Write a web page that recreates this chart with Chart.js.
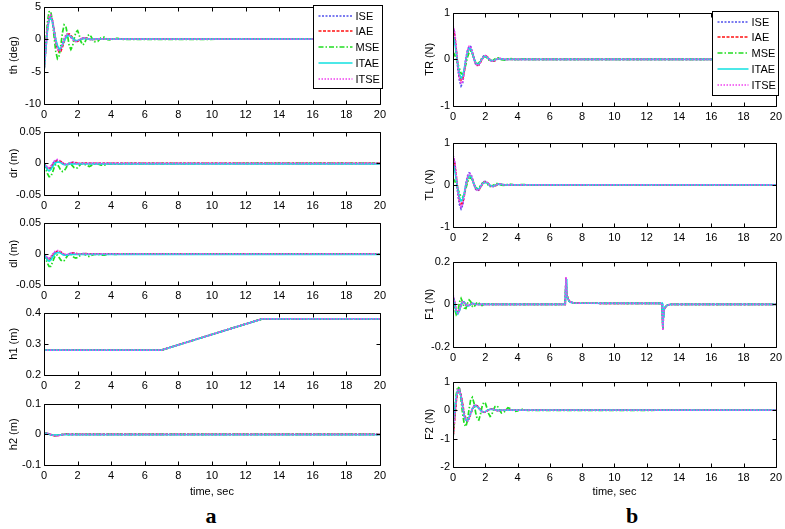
<!DOCTYPE html>
<html>
<head>
<meta charset="utf-8">
<script src="https://cdn.jsdelivr.net/npm/chart.js@4.4.0/dist/chart.umd.min.js"></script>
<style>
  body { margin: 0; background: #fff; width: 785px; height: 529px; position: relative; overflow: hidden; }
  canvas { position: absolute; }
  .tag { position: absolute; font: bold 22px "Liberation Serif", "Times New Roman", serif; transform: translate(-50%, -50%); }
</style>
</head>
<body>
<div class="tag" style="left:211px; top:516px">a</div>
<div class="tag" style="left:632px; top:516px">b</div>
<script>
// tick labels
const xTicks = [0, 2, 4, 6, 8, 10, 12, 14, 16, 18, 20];
const thTicks = [-10, -5, 0, 5];
const drTicks = [-0.05, 0, 0.05];
const dlTicks = [-0.05, 0, 0.05];
const h1Ticks = [0.2, 0.3, 0.4];
const h2Ticks = [-0.1, 0, 0.1];
const trTicks = [-1, 0, 1];
const tlTicks = [-1, 0, 1];
const f1Ticks = [-0.2, 0, 0.2];
const f2Ticks = [-2, -1, 0, 1];

// time samples (sec)
const tA = [0,0.1,0.2,0.3,0.4,0.5,0.6,0.7,0.8,0.9,
  1.0,1.1,1.2,1.3,1.4,1.5,1.6,1.7,1.8,1.9,
  2.0,2.1,2.2,2.3,2.4,2.5,2.6,2.7,2.8,2.9,
  3.0,3.2,3.4,3.6,3.8,4.0,4.2,4.4,4.6,20];
const tH = [0, 7, 13, 20];
const tF = [0,0.1,0.2,0.3,0.4,0.5,0.6,0.7,0.8,0.9,
  1.0,1.1,1.2,1.3,1.4,1.5,1.6,1.7,1.8,1.9,
  2.0,2.5,6.95,7.0,7.03,7.06,7.1,7.2,7.3,7.5,
  8.0,12.95,13.0,13.03,13.06,13.1,13.2,13.3,13.5,20];

// th (deg)
const thISE = [-5.0,-1.6,1.6,3.3,3.6,2.8,1.2,-0.4,-1.4,-1.8,
  -1.5,-0.8,0.0,0.5,0.7,0.6,0.3,0.0,-0.25,-0.35,
  -0.3,-0.15,0.0,0.12,0.15,0.12,0.05,-0.03,-0.07,-0.06,
  -0.03,0.02,0.03,0.01,-0.01,0,0,0,0,0];
const thIAE = [-5.0,-1.8,1.4,3.1,3.5,2.9,1.5,-0.2,-1.4,-2.0,
  -1.9,-1.2,-0.4,0.3,0.7,0.8,0.6,0.2,-0.15,-0.35,
  -0.35,-0.2,-0.05,0.1,0.17,0.15,0.08,0.0,-0.06,-0.07,
  -0.05,0.02,0.04,0.02,-0.01,-0.01,0,0,0,0];
const thMSE = [-5.0,-1.0,2.5,4.2,4.3,2.8,0.4,-1.9,-3.0,-2.6,
  -1.0,1.0,2.2,2.0,0.6,-1.0,-1.6,-1.1,0.1,1.1,
  1.3,0.6,-0.4,-0.9,-0.7,-0.1,0.5,0.7,0.4,-0.1,
  -0.4,-0.35,0.2,0.3,-0.1,-0.15,0.1,0.12,-0.05,0];
const thITAE = [-5.0,-1.9,1.2,2.9,3.3,2.7,1.3,-0.1,-1.0,-1.5,
  -1.4,-0.9,-0.3,0.2,0.5,0.55,0.4,0.15,-0.1,-0.22,
  -0.22,-0.13,-0.02,0.06,0.1,0.08,0.04,-0.01,-0.04,-0.04,
  -0.02,0.01,0.02,0.01,0,0,0,0,0,0];
const thITSE = [-5.0,-1.5,1.7,3.4,3.7,2.9,1.2,-0.5,-1.5,-1.9,
  -1.6,-0.8,0.0,0.6,0.8,0.65,0.3,-0.05,-0.3,-0.4,
  -0.3,-0.12,0.05,0.15,0.17,0.12,0.04,-0.04,-0.08,-0.06,
  -0.03,0.02,0.03,0.01,-0.01,0,0,0,0,0];

// dr (m)
const drISE = [0,-0.004,-0.007,-0.008,-0.006,-0.002,0.002,0.004,0.005,0.004,
  0.002,0,-0.001,-0.002,-0.001,0,0.001,0.0015,0.001,0,
  -0.0005,-0.0005,0,0.0003,0.0003,0,0,0,0,0,
  0,0,0,0,0,0,0,0,0,0];
const drIAE = [0,-0.005,-0.009,-0.010,-0.008,-0.004,0,0.003,0.004,0.004,
  0.003,0.001,-0.001,-0.002,-0.002,-0.001,0,0.001,0.001,0.001,
  0,-0.0005,-0.0005,0,0.0003,0.0003,0,0,0,0,
  0,0,0,0,0,0,0,0,0,0];
const drMSE = [0,-0.008,-0.016,-0.021,-0.021,-0.015,-0.007,-0.002,-0.002,-0.006,
  -0.011,-0.013,-0.012,-0.008,-0.003,0,-0.001,-0.004,-0.007,-0.008,
  -0.007,-0.004,-0.001,0,-0.001,-0.003,-0.004,-0.005,-0.004,-0.002,
  -0.001,-0.001,-0.003,-0.003,-0.001,-0.0005,-0.0015,-0.0015,-0.0005,0];
const drITAE = [0,-0.005,-0.010,-0.012,-0.010,-0.006,-0.002,0.001,0.002,0.002,
  0.001,-0.001,-0.002,-0.002,-0.002,-0.001,-0.001,-0.001,-0.001,-0.001,
  -0.001,-0.001,-0.001,-0.001,-0.001,-0.001,-0.001,-0.001,-0.001,-0.001,
  -0.001,-0.001,-0.001,-0.001,-0.001,-0.001,-0.001,-0.001,-0.001,-0.001];
const drITSE = [0,-0.003,-0.006,-0.007,-0.005,-0.001,0.003,0.005,0.006,0.005,
  0.003,0.001,-0.001,-0.001,-0.001,0,0.001,0.001,0.001,0,
  0,0,0,0,0,0,0,0,0,0,
  0,0,0,0,0,0,0,0,0,0];

// dl (m)
const dlISE = [0,-0.004,-0.007,-0.008,-0.006,-0.002,0.001,0.003,0.004,0.004,
  0.002,0,-0.001,-0.002,-0.001,0,0.001,0.001,0.001,0,
  -0.0005,-0.0005,0,0.0003,0.0003,0,0,0,0,0,
  0,0,0,0,0,0,0,0,0,0];
const dlIAE = [0,-0.005,-0.009,-0.010,-0.008,-0.004,0,0.002,0.004,0.004,
  0.003,0.001,-0.001,-0.002,-0.002,-0.001,0,0.001,0.001,0.001,
  0,-0.0005,-0.0005,0,0.0003,0.0003,0,0,0,0,
  0,0,0,0,0,0,0,0,0,0];
const dlMSE = [0,-0.008,-0.015,-0.020,-0.020,-0.014,-0.007,-0.002,-0.002,-0.006,
  -0.010,-0.012,-0.011,-0.007,-0.003,0,-0.001,-0.004,-0.006,-0.007,
  -0.006,-0.004,-0.001,0,-0.001,-0.002,-0.004,-0.004,-0.003,-0.002,
  -0.001,-0.001,-0.002,-0.002,-0.001,0,-0.001,-0.001,0,0];
const dlITAE = [0,-0.005,-0.010,-0.012,-0.010,-0.006,-0.002,0.001,0.002,0.002,
  0.001,-0.001,-0.002,-0.002,-0.002,-0.001,-0.001,-0.001,-0.001,-0.001,
  -0.001,-0.001,-0.001,-0.001,-0.001,-0.001,-0.001,-0.001,-0.001,-0.001,
  -0.001,-0.001,-0.001,-0.001,-0.001,-0.001,-0.001,-0.001,-0.001,-0.001];
const dlITSE = [0,-0.003,-0.006,-0.007,-0.005,-0.001,0.003,0.004,0.005,0.005,
  0.003,0.001,-0.001,-0.001,-0.001,0,0.001,0.001,0.001,0,
  0,0,0,0,0,0,0,0,0,0,
  0,0,0,0,0,0,0,0,0,0];

// h1 (m)
const h1ISE = [0.28, 0.28, 0.38, 0.38];
const h1IAE = [0.28, 0.28, 0.38, 0.38];
const h1MSE = [0.28, 0.28, 0.38, 0.38];
const h1ITAE = [0.28, 0.28, 0.38, 0.38];
const h1ITSE = [0.28, 0.28, 0.38, 0.38];

// h2 (m)
const h2ISE = [0.004,0.004,0.003,0.001,-0.001,-0.002,-0.003,-0.004,-0.004,-0.003,
  -0.002,-0.001,0,0.0005,0.0005,0,0,0,0,0,
  0,0,0,0,0,0,0,0,0,0,
  0,0,0,0,0,0,0,0,0,0];
const h2IAE = [0.004,0.004,0.003,0.001,-0.001,-0.003,-0.004,-0.004,-0.004,-0.003,
  -0.002,-0.001,0,0.0005,0.0005,0,0,0,0,0,
  0,0,0,0,0,0,0,0,0,0,
  0,0,0,0,0,0,0,0,0,0];
const h2MSE = [0.003,0.003,0.002,0,-0.002,-0.003,-0.004,-0.004,-0.003,-0.002,
  -0.001,0,0.001,0.001,0,-0.001,-0.001,0,0.0005,0.0005,
  0,0,0,0,0,0,0,0,0,0,
  0,0,0,0,0,0,0,0,0,0];
const h2ITAE = [0.003,0.003,0.002,0,-0.002,-0.003,-0.003,-0.003,-0.003,-0.002,
  -0.002,-0.001,-0.001,-0.001,-0.001,-0.001,-0.001,-0.001,-0.001,-0.001,
  -0.001,-0.001,-0.001,-0.001,-0.001,-0.001,-0.001,-0.001,-0.001,-0.001,
  -0.001,-0.001,-0.001,-0.001,-0.001,-0.001,-0.001,-0.001,-0.001,-0.001];
const h2ITSE = [0.005,0.004,0.003,0.001,-0.001,-0.003,-0.005,-0.006,-0.005,-0.004,
  -0.002,-0.001,0,0.0005,0.0005,0,0,0,0,0,
  0,0,0,0,0,0,0,0,0,0,
  0,0,0,0,0,0,0,0,0,0];

// TR (N)
const trISE = [0.7,0.55,0.2,-0.2,-0.45,-0.57,-0.5,-0.25,0.02,0.2,
  0.28,0.27,0.15,0,-0.1,-0.13,-0.12,-0.05,0.03,0.07,
  0.08,0.05,0.01,-0.03,-0.04,-0.04,-0.02,0,0.02,0.02,
  0.01,-0.01,0,0.005,0,0,0,0,0,0];
const trIAE = [0.65,0.5,0.2,-0.12,-0.35,-0.45,-0.42,-0.25,-0.03,0.14,
  0.22,0.21,0.13,0.02,-0.08,-0.13,-0.12,-0.07,0,0.05,
  0.07,0.06,0.03,-0.01,-0.03,-0.04,-0.03,-0.01,0.01,0.02,
  0.01,0,0,0,0,0,0,0,0,0];
const trMSE = [0.15,0.1,0,-0.1,-0.2,-0.3,-0.32,-0.25,-0.1,0.05,
  0.15,0.18,0.12,0.02,-0.06,-0.1,-0.08,-0.03,0.03,0.06,
  0.06,0.03,-0.01,-0.04,-0.04,-0.02,0.01,0.03,0.03,0.01,
  -0.01,-0.02,0.01,0.015,-0.005,-0.01,0.005,0.005,0,0];
const trITAE = [0.5,0.4,0.15,-0.12,-0.32,-0.4,-0.36,-0.2,0,0.15,
  0.23,0.22,0.13,0.02,-0.07,-0.11,-0.1,-0.05,0.01,0.05,
  0.06,0.05,0.02,-0.01,-0.03,-0.03,-0.02,0,0.01,0.015,
  0.01,0,0,0,0,0,0,0,0,0];
const trITSE = [0.72,0.6,0.25,-0.15,-0.4,-0.52,-0.47,-0.26,0,0.19,
  0.28,0.27,0.16,0.02,-0.09,-0.14,-0.12,-0.06,0.01,0.06,
  0.08,0.06,0.02,-0.02,-0.04,-0.04,-0.02,0,0.015,0.02,
  0.01,-0.005,0,0,0,0,0,0,0,0];

// TL (N)
const tlISE = [0.7,0.55,0.18,-0.22,-0.47,-0.57,-0.48,-0.24,0.03,0.21,
  0.28,0.26,0.14,0,-0.1,-0.14,-0.12,-0.05,0.03,0.07,
  0.08,0.05,0.01,-0.03,-0.04,-0.04,-0.02,0,0.02,0.02,
  0.01,-0.01,0,0.005,0,0,0,0,0,0];
const tlIAE = [0.62,0.5,0.2,-0.12,-0.35,-0.45,-0.42,-0.25,-0.03,0.14,
  0.22,0.21,0.13,0.02,-0.08,-0.13,-0.12,-0.07,0,0.05,
  0.07,0.06,0.03,-0.01,-0.03,-0.04,-0.03,-0.01,0.01,0.02,
  0.01,0,0,0,0,0,0,0,0,0];
const tlMSE = [0.15,0.1,0,-0.1,-0.2,-0.28,-0.3,-0.22,-0.08,0.06,
  0.15,0.17,0.11,0.02,-0.06,-0.09,-0.07,-0.02,0.03,0.06,
  0.05,0.02,-0.01,-0.04,-0.03,-0.01,0.01,0.03,0.025,0.01,
  -0.01,-0.015,0.01,0.01,-0.005,-0.005,0.003,0.003,0,0];
const tlITAE = [0.5,0.38,0.14,-0.12,-0.3,-0.38,-0.35,-0.2,0,0.15,
  0.22,0.21,0.13,0.02,-0.07,-0.11,-0.1,-0.05,0.01,0.05,
  0.06,0.05,0.02,-0.01,-0.03,-0.03,-0.02,0,0.01,0.015,
  0.01,0,0,0,0,0,0,0,0,0];
const tlITSE = [0.7,0.58,0.24,-0.16,-0.41,-0.52,-0.46,-0.25,0,0.19,
  0.27,0.26,0.15,0.02,-0.09,-0.13,-0.12,-0.06,0.01,0.06,
  0.07,0.06,0.02,-0.02,-0.04,-0.04,-0.02,0,0.015,0.02,
  0.01,-0.005,0,0,0,0,0,0,0,0];

// F1 (N)
const f1ISE = [0.045,0.01,-0.03,-0.04,-0.025,0,0.012,0.008,-0.004,-0.008,
  -0.004,0.002,0.004,0.002,0,-0.001,0,0,0,0,
  0,0,0,0.125,0.07,0.045,0.03,0.015,0.01,0.006,
  0.005,0.004,-0.12,-0.06,-0.035,-0.02,-0.008,-0.003,0,0];
const f1IAE = [0.035,0.005,-0.03,-0.038,-0.025,-0.003,0.01,0.009,0,-0.006,
  -0.005,0,0.003,0.002,0,-0.001,0,0,0,0,
  0,0,0,0.12,0.068,0.044,0.03,0.015,0.01,0.006,
  0.005,0.004,-0.115,-0.058,-0.034,-0.02,-0.008,-0.003,0,0];
const f1MSE = [0.02,-0.02,-0.048,-0.035,0.01,0.028,0.01,-0.018,-0.02,0.005,
  0.02,0.012,-0.01,-0.014,0,0.01,0.006,-0.004,-0.006,0,
  0.002,0,0,0.12,0.068,0.044,0.03,0.015,0.01,0.006,
  0.005,0.004,-0.115,-0.058,-0.034,-0.02,-0.008,-0.003,0,0];
const f1ITAE = [0.04,0,-0.035,-0.045,-0.03,-0.005,0.01,0.01,0,-0.007,
  -0.006,0,0.004,0.003,0,-0.001,-0.001,0,0,0,
  0,0,0,0.118,0.065,0.042,0.028,0.014,0.009,0.006,
  0.005,0.004,-0.11,-0.055,-0.032,-0.019,-0.008,-0.003,0,0];
const f1ITSE = [0.045,0.012,-0.028,-0.04,-0.027,-0.002,0.012,0.009,-0.003,-0.008,
  -0.005,0.001,0.004,0.002,0,-0.001,0,0,0,0,
  0,0,0,0.128,0.072,0.046,0.03,0.015,0.01,0.006,
  0.005,0.004,-0.122,-0.06,-0.035,-0.02,-0.008,-0.003,0,0];

// F2 (N)
const f2ISE = [-1,-0.3,0.35,0.7,0.75,0.5,0.15,-0.2,-0.38,-0.4,
  -0.3,-0.12,0.05,0.15,0.18,0.15,0.08,0,-0.06,-0.08,
  -0.07,-0.03,0.01,0.03,0.04,0.03,0.01,-0.01,-0.02,-0.02,
  -0.01,0.005,0.01,0,0,0,0,0,0,0];
const f2IAE = [-1,-0.35,0.3,0.65,0.72,0.52,0.2,-0.12,-0.3,-0.35,
  -0.28,-0.13,0.02,0.12,0.16,0.14,0.08,0.02,-0.04,-0.07,
  -0.07,-0.04,0,0.03,0.04,0.03,0.01,-0.01,-0.02,-0.02,
  -0.01,0.005,0.01,0,0,0,0,0,0,0];
const f2MSE = [-1,-0.1,0.55,0.82,0.75,0.35,-0.15,-0.5,-0.58,-0.35,
  0.05,0.38,0.45,0.25,-0.08,-0.32,-0.35,-0.15,0.12,0.27,
  0.25,0.08,-0.12,-0.22,-0.17,0,0.12,0.15,0.1,-0.02,
  -0.1,-0.05,0.08,0.04,-0.05,-0.03,0.03,0.02,-0.015,0];
const f2ITAE = [-0.6,0,0.45,0.7,0.7,0.45,0.1,-0.2,-0.35,-0.35,
  -0.25,-0.1,0.04,0.12,0.15,0.12,0.06,0,-0.05,-0.06,
  -0.05,-0.02,0.01,0.02,0.03,0.02,0.01,-0.005,-0.01,-0.01,
  -0.005,0,0,0,0,0,0,0,0,0];
const f2ITSE = [-0.9,-0.25,0.4,0.72,0.73,0.48,0.12,-0.2,-0.37,-0.38,
  -0.28,-0.1,0.05,0.14,0.17,0.14,0.07,0,-0.05,-0.07,
  -0.06,-0.03,0.01,0.03,0.035,0.025,0.01,-0.01,-0.015,-0.015,
  -0.01,0.005,0.005,0,0,0,0,0,0,0];

const names = ['ISE', 'IAE', 'MSE', 'ITAE', 'ITSE'];
const colors = ['#5050ec', '#ff1010', '#20dd20', '#10e0e0', '#f040f0'];
const dashes = [[2, 1.5], [3, 1.5], [5, 2, 1.5, 2], [], [1.5, 1.5]];
const FONT = '"Liberation Sans", Arial, Helvetica, sans-serif';

// page layout of the two columns of subplots
const cols = [
  { left: 0, plotLeft: 44, plotRight: 382, titleX: 14, xTitleY: 491.5 },
  { left: 400, plotLeft: 453, plotRight: 778, titleX: 430, xTitleY: 492 }
];
const PT = 8, PR = 8;

const panels = [
  { col: 0, top: 5, bottom: 104, label: 'th (deg)', yTicks: thTicks, t: tA, s: [thISE, thIAE, thMSE, thITAE, thITSE], legend: { x: 313, y: 5, w: 69, h: 83 } },
  { col: 0, top: 130, bottom: 195, label: 'dr (m)', yTicks: drTicks, t: tA, s: [drISE, drIAE, drMSE, drITAE, drITSE] },
  { col: 0, top: 221, bottom: 285, label: 'dl (m)', yTicks: dlTicks, t: tA, s: [dlISE, dlIAE, dlMSE, dlITAE, dlITSE] },
  { col: 0, top: 311, bottom: 375, label: 'h1 (m)', yTicks: h1Ticks, t: tH, s: [h1ISE, h1IAE, h1MSE, h1ITAE, h1ITSE] },
  { col: 0, top: 402, bottom: 465, label: 'h2 (m)', yTicks: h2Ticks, t: tA, s: [h2ISE, h2IAE, h2MSE, h2ITAE, h2ITSE], xTitle: true },
  { col: 1, top: 11, bottom: 106, label: 'TR (N)', yTicks: trTicks, t: tA, s: [trISE, trIAE, trMSE, trITAE, trITSE], legend: { x: 712, y: 11, w: 66, h: 84 } },
  { col: 1, top: 141, bottom: 227, label: 'TL (N)', yTicks: tlTicks, t: tA, s: [tlISE, tlIAE, tlMSE, tlITAE, tlITSE] },
  { col: 1, top: 260, bottom: 347, label: 'F1 (N)', yTicks: f1Ticks, t: tF, s: [f1ISE, f1IAE, f1MSE, f1ITAE, f1ITSE] },
  { col: 1, top: 380, bottom: 467, label: 'F2 (N)', yTicks: f2Ticks, t: tA, s: [f2ISE, f2IAE, f2MSE, f2ITAE, f2ITSE], xTitle: true }
];

// box, inward ticks and legend, like the matlab axes
const framePlugin = {
  id: 'frame',
  afterDatasetsDraw(chart, args, opts) {
    const { ctx, chartArea: a, scales: { x, y } } = chart;
    const L = Math.round(a.left) + 0.5, R = Math.round(a.right) + 0.5;
    const T = Math.round(a.top) + 0.5, B = Math.round(a.bottom) + 0.5;
    ctx.save();
    ctx.strokeStyle = '#000';
    ctx.lineWidth = 1;
    ctx.setLineDash([]);
    ctx.beginPath();
    ctx.rect(L, T, R - L, B - T);
    x.ticks.forEach(tk => {
      const px = Math.round(x.getPixelForValue(tk.value)) + 0.5;
      ctx.moveTo(px, B); ctx.lineTo(px, B - 4);
      ctx.moveTo(px, T); ctx.lineTo(px, T + 4);
    });
    y.ticks.forEach(tk => {
      const py = Math.round(y.getPixelForValue(tk.value)) + 0.5;
      ctx.moveTo(L, py); ctx.lineTo(L + 4, py);
      ctx.moveTo(R, py); ctx.lineTo(R - 4, py);
    });
    ctx.stroke();

    const lg = opts.legend;
    if (lg) {
      const lx = lg.x - opts.left + 0.5, ly = lg.y - opts.top + 0.5;
      ctx.fillStyle = '#fff';
      ctx.fillRect(lx, ly, lg.w, lg.h);
      ctx.strokeRect(lx, ly, lg.w, lg.h);
      ctx.font = '11px ' + FONT;
      ctx.textBaseline = 'middle';
      ctx.textAlign = 'left';
      names.forEach((n, i) => {
        const ry = Math.round(ly + 10 + i * 15.9);
        ctx.strokeStyle = colors[i];
        ctx.lineWidth = 1.5;
        ctx.setLineDash(dashes[i]);
        ctx.beginPath();
        ctx.moveTo(lx + 5, ry);
        ctx.lineTo(lx + lg.w - 30, ry);
        ctx.stroke();
        ctx.fillStyle = '#000';
        ctx.fillText(n, lx + lg.w - 27, ry + 0.5);
      });
    }
    ctx.restore();
  }
};

panels.forEach(p => {
  const c = cols[p.col];
  const padB = p.xTitle ? 34 : 20;
  const w = c.plotRight + PR - c.left;
  const h = p.bottom - p.top + PT + padB;
  const cv = document.createElement('canvas');
  cv.width = w; cv.height = h;
  cv.style.left = c.left + 'px';
  cv.style.top = (p.top - PT) + 'px';
  cv.style.width = w + 'px';
  cv.style.height = h + 'px';
  document.body.appendChild(cv);

  new Chart(cv, {
    type: 'line',
    data: {
      datasets: names.map((n, i) => ({
        label: n,
        data: p.t.map((tv, k) => ({ x: tv, y: p.s[i][k] })),
        borderColor: colors[i],
        borderDash: dashes[i],
        borderWidth: 1.7,
        pointRadius: 0,
        tension: 0,
        fill: false,
        order: 4 - i
      }))
    },
    options: {
      responsive: false,
      animation: false,
      devicePixelRatio: 1,
      layout: { padding: { top: PT, right: PR, left: 0, bottom: 0 } },
      plugins: {
        legend: { display: false },
        tooltip: { enabled: false },
        frame: { legend: p.legend, left: c.left, top: p.top - PT }
      },
      scales: {
        x: {
          type: 'linear', min: 0, max: 20,
          afterBuildTicks: s => { s.ticks = xTicks.map(v => ({ value: v })); },
          afterFit: s => { s.height = padB; },
          grid: { display: false, drawTicks: false },
          border: { display: false },
          ticks: { padding: 4, color: '#000', autoSkip: false, maxRotation: 0, font: { family: FONT, size: 11 }, callback: v => String(v) },
          title: {
            display: !!p.xTitle, text: 'time, sec', color: '#000',
            font: { family: FONT, size: 11 },
            padding: { top: 0, bottom: p.bottom + padB - c.xTitleY - 6.6 }
          }
        },
        y: {
          type: 'linear', min: p.yTicks[0], max: p.yTicks[p.yTicks.length - 1],
          afterBuildTicks: s => { s.ticks = p.yTicks.map(v => ({ value: v })); },
          afterFit: s => { s.width = c.plotLeft - c.left; },
          grid: { display: false, drawTicks: false },
          border: { display: false },
          ticks: { padding: 3, color: '#000', font: { family: FONT, size: 11 }, callback: v => String(v) },
          title: {
            display: true, text: p.label, color: '#000',
            font: { family: FONT, size: 11 },
            padding: { top: c.titleX - c.left - 6.6, bottom: 0 }
          }
        }
      }
    },
    plugins: [framePlugin]
  });
});
</script>
</body>
</html>
